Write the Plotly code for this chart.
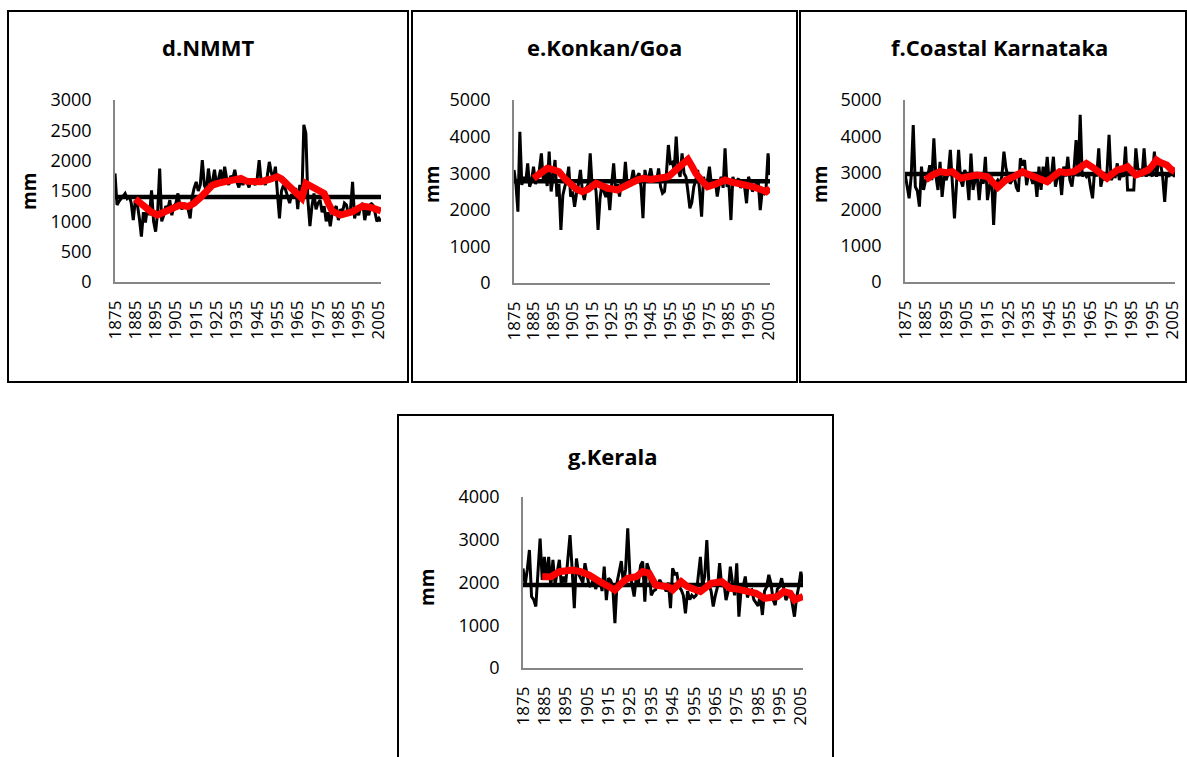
import plotly.graph_objects as go

W, H = 1187, 757

years = list(range(1875, 2007))

# ---- annual rainfall (mm), 1875-2006 ----
nmmt = [1790, 1270, 1330, 1380, 1420, 1460, 1380, 1420, 1300, 1020,
        1350, 1280, 1050, 750, 1150, 980, 1250, 1100, 1510, 1000,
        830, 1150, 1870, 1000, 1100, 1250, 1200, 1350, 1100, 1250,
        1300, 1460, 1250, 1200, 1300, 1250, 1200, 1050, 1400, 1550,
        1650, 1500, 1600, 2010, 1600, 1500, 1870, 1600, 1650, 1850,
        1600, 1700, 1850, 1600, 1900, 1700, 1600, 1750, 1700, 1850,
        1650, 1560, 1700, 1600, 1700, 1650, 1560, 1700, 1650, 1600,
        1700, 2010, 1650, 1700, 1600, 1750, 1980, 1800, 1700, 1900,
        1460, 1050, 1500, 1600, 1520, 1400, 1300, 1450, 1400, 1550,
        1200, 1600, 1350, 2590, 2450, 1350, 920, 1250, 1460, 1200,
        1300, 1350, 1150, 1250, 1000, 1150, 920, 1150, 1200, 1250,
        1020, 1200, 1150, 1300, 1270, 1100, 1200, 1650, 1050, 1200,
        1100, 1250, 1300, 1020, 1200, 1100, 1300, 1270, 1150, 1000,
        1050, 1000]

konkan = [3090, 2700, 1950, 4130, 2680, 2900, 2750, 3270, 2630, 2800,
          3180, 2700, 2900, 3100, 3540, 2800, 3000, 2650, 3590, 2500,
          2900, 3360, 2360, 2700, 1450, 2400, 2630, 2800, 3180, 2360,
          2500, 2080, 2450, 2700, 3090, 2500, 2270, 2600, 2700, 3540,
          2630, 2800, 2500, 1450, 2300, 2700, 2500, 2350, 2600, 1990,
          2700, 3270, 2540, 2700, 2360, 2800, 2600, 3310, 2630, 2700,
          2800, 3090, 2750, 2900, 3000, 2630, 1770, 3090, 2800, 2900,
          3130, 2800, 2900, 2800, 3130, 2630, 2450, 2500, 3000, 3770,
          3270, 3300, 3100, 4000, 3090, 2900, 3540, 3000, 2900, 2500,
          2040, 2200, 2630, 2800, 3090, 2500, 1810, 2900, 2600, 2800,
          3180, 2700, 2630, 2800, 2360, 2700, 2900, 2600, 3680, 2630,
          2700, 1720, 2900, 2700, 2800, 2850, 2600, 2700, 2630, 2180,
          2900, 2750, 2500, 2600, 2700, 2750, 1990, 2500, 2450, 2600,
          3540, 2950]

karnataka = [2985, 2620, 2300, 2900, 4310, 2620, 2500, 2070, 3170, 2530,
             2800, 2900, 3210, 2800, 3950, 2900, 2530, 3300, 2340, 2900,
             2800, 3000, 3630, 2700, 1750, 2700, 3630, 2800, 2620, 3080,
             2900, 2250, 3530, 2530, 2800, 2900, 2250, 2900, 2700, 3440,
             2250, 2620, 2900, 1570, 2710, 2800, 2700, 2900, 3580, 3120,
             2900, 2700, 2800, 2900, 2600, 2480, 3400, 3200, 3350, 2660,
             2990, 2900, 2700, 2940, 2340, 3170, 2530, 3170, 2800, 3440,
             2710, 2900, 3440, 2620, 2900, 3000, 2390, 3170, 2900, 3440,
             2800, 2620, 3100, 3900, 2900, 4590, 2900, 3000, 2900, 2980,
             2600, 2300, 3080, 2900, 3670, 2620, 2900, 2800, 3000, 4040,
             2800, 2900, 2890, 3260, 2800, 3000, 2890, 3720, 2530, 2530,
             2530, 2530, 3670, 3100, 3080, 2900, 3670, 2890, 3170, 3000,
             2900, 3580, 2890, 3300, 3260, 2900, 2200, 3000, 2890, 3080,
             2950, 2890]

kerala = [2330, 1940, 2300, 2760, 1670, 1600, 1440, 2400, 3030, 2060,
          2600, 2060, 2600, 1900, 2530, 1950, 2200, 2530, 1900, 2140,
          2000, 2500, 3110, 2300, 1400, 2560, 2200, 2100, 2000, 2450,
          2200, 1900, 1950, 2100, 1850, 2000, 2060, 1800, 2370, 1590,
          2100, 2050, 1900, 1050, 2000, 2250, 2500, 1950, 2300, 3270,
          2200, 1950, 1670, 2100, 1980, 2400, 2490, 1550, 2450, 2300,
          1700, 1800, 1830, 1950, 2060, 1950, 1900, 1790, 2000, 1400,
          2330, 2200, 2210, 1900, 1830, 1700, 1280, 1800, 1600, 1700,
          1650, 1700, 2180, 2600, 1900, 2140, 2990, 1950, 1800, 1440,
          1700, 1900, 2450, 1900, 2000, 1590, 1800, 2370, 2000, 1700,
          2450, 1200, 1800, 1900, 2140, 1650, 1800, 1830, 1600, 1510,
          1450, 1700, 1240, 1800, 1900, 2180, 1980, 1600, 1470, 1850,
          1900, 2100, 1800, 1590, 1700, 1800, 1500, 1200, 1650, 1900,
          2250, 1950]

# ---- long-term means (mm) ----
nmmt_mean = 1400
konkan_mean = 2780
karnataka_mean = 2970
kerala_mean = 1940

# ---- moving-average trend ----
nmmt_ma_years = [1885, 1889, 1893, 1896, 1899, 1902, 1905, 1907, 1911, 1914, 1917, 1920,
                 1923, 1926, 1929, 1933, 1937, 1940, 1944, 1947, 1951, 1955, 1957, 1960,
                 1963, 1965, 1967, 1969, 1972, 1975, 1978, 1980, 1982, 1986, 1989, 1992,
                 1995, 1997, 2001, 2004, 2006]
nmmt_ma = [1370, 1250, 1150, 1104, 1150, 1214, 1230, 1268, 1245, 1300, 1390, 1500,
           1598, 1630, 1653, 1680, 1708, 1660, 1653, 1653, 1690, 1735, 1700, 1610,
           1500, 1433, 1380, 1625, 1580, 1530, 1461, 1300, 1170, 1104, 1130, 1160,
           1220, 1250, 1230, 1200, 1170]

konkan_ma_years = [1885, 1888, 1892, 1895, 1898, 1901, 1904, 1907, 1910, 1913, 1917, 1920,
                   1923, 1926, 1928, 1931, 1934, 1938, 1941, 1945, 1949, 1954, 1957, 1959,
                   1962, 1964, 1966, 1968, 1971, 1974, 1978, 1983, 1986, 1990, 1994, 1997,
                   2001, 2004, 2006]
konkan_ma = [2860, 2990, 3133, 3100, 3042, 2850, 2678, 2560, 2495, 2560, 2723, 2640,
             2587, 2560, 2541, 2630, 2723, 2814, 2860, 2830, 2860, 2905, 3050, 3133,
             3300, 3379, 3200, 2996, 2800, 2632, 2700, 2814, 2760, 2723, 2690, 2632,
             2560, 2495, 2587]

karnataka_ma_years = [1885, 1888, 1892, 1895, 1898, 1902, 1906, 1910, 1915, 1918, 1920, 1922,
                      1924, 1928, 1932, 1935, 1939, 1942, 1944, 1947, 1950, 1953, 1957, 1960,
                      1963, 1966, 1968, 1970, 1973, 1975, 1978, 1981, 1983, 1985, 1987, 1990,
                      1993, 1995, 1997, 1999, 2002, 2004, 2006]
karnataka_ma = [2802, 2930, 3031, 3000, 3031, 2848, 2900, 2940, 2894, 2700, 2600, 2700,
                2802, 2900, 3031, 2950, 2848, 2780, 2756, 2900, 3031, 3000, 3031, 3150,
                3260, 3150, 3077, 2950, 2848, 2950, 3077, 3120, 3168, 3050, 2940, 3000,
                3077, 3200, 3352, 3280, 3214, 3100, 3031]

kerala_ma_years = [1884, 1888, 1892, 1895, 1898, 1902, 1906, 1911, 1915, 1918, 1921, 1924,
                   1928, 1931, 1934, 1937, 1940, 1943, 1945, 1949, 1952, 1955, 1958, 1961,
                   1963, 1968, 1972, 1975, 1978, 1981, 1984, 1988, 1991, 1994, 1997, 2000,
                   2002, 2004, 2006]
kerala_ma = [2136, 2136, 2253, 2270, 2292, 2253, 2175, 2019, 1900, 1825, 1980, 2097,
             2136, 2253, 2214, 1942, 1920, 1900, 1825, 2019, 1900, 1825, 1787, 1900,
             1980, 2019, 1864, 1850, 1825, 1790, 1747, 1630, 1640, 1670, 1787, 1747,
             1591, 1620, 1670]

tick_years = list(range(1875, 2006, 10))

FONT = "Open Sans"

panels = [
    dict(title="d.NMMT", y=nmmt, mean=nmmt_mean, mx=nmmt_ma_years, my=nmmt_ma,
         ymax=3000, dtick=500, plot=(115, 100, 381, 282), box=(8, 11, 408, 382),
         title_xy=(208, 47), mm_xy=(29, 192)),
    dict(title="e.Konkan/Goa", y=konkan, mean=konkan_mean, mx=konkan_ma_years, my=konkan_ma,
         ymax=5000, dtick=1000, plot=(514, 100, 770, 283), box=(412, 11, 797, 382),
         title_xy=(605, 47), mm_xy=(432, 185)),
    dict(title="f.Coastal Karnataka", y=karnataka, mean=karnataka_mean, mx=karnataka_ma_years,
         my=karnataka_ma, ymax=5000, dtick=1000, plot=(905, 100, 1175, 282),
         box=(800, 11, 1186, 382), title_xy=(1000, 47), mm_xy=(820, 185)),
    dict(title="g.Kerala", y=kerala, mean=kerala_mean, mx=kerala_ma_years, my=kerala_ma,
         ymax=4000, dtick=1000, plot=(523, 497, 803, 668), box=(398, 415, 833, 760),
         title_xy=(613, 456), mm_xy=(427, 588)),
]

fig = go.Figure()
shapes = []
annotations = []

for i, p in enumerate(panels):
    n = "" if i == 0 else str(i + 1)
    xa, ya = "x" + n, "y" + n
    fig.add_trace(go.Scatter(x=years, y=p["y"], mode="lines",
                             line=dict(color="black", width=3),
                             xaxis=xa, yaxis=ya, showlegend=False, hoverinfo="skip"))
    fig.add_trace(go.Scatter(x=[years[0], years[-1]], y=[p["mean"], p["mean"]], mode="lines",
                             line=dict(color="black", width=4.5),
                             xaxis=xa, yaxis=ya, showlegend=False, hoverinfo="skip"))
    fig.add_trace(go.Scatter(x=p["mx"], y=p["my"], mode="lines",
                             line=dict(color="#FF0000", width=7),
                             xaxis=xa, yaxis=ya, showlegend=False, hoverinfo="skip"))
    x0, y0, x1, y1 = p["plot"]
    fig.layout["xaxis" + n] = dict(
        domain=[x0 / W, x1 / W], anchor=ya, range=[years[0], years[-1]],
        tickmode="array", tickvals=tick_years, tickangle=-90,
        tickfont=dict(family=FONT, size=17, color="black"),
        showgrid=False, zeroline=False, showline=True, linecolor="#868686", linewidth=1.5,
        ticks="", ticklabelstandoff=10, automargin=False, fixedrange=True)
    fig.layout["yaxis" + n] = dict(
        domain=[1 - y1 / H, 1 - y0 / H], anchor=xa, range=[0, p["ymax"]],
        dtick=p["dtick"], tick0=0,
        tickfont=dict(family=FONT, size=18, color="black"),
        showgrid=False, zeroline=False, showline=True, linecolor="#868686", linewidth=1.5,
        ticks="", ticklabelstandoff=18, automargin=False, fixedrange=True)
    bx0, by0, bx1, by1 = p["box"]
    shapes.append(dict(type="rect", xref="paper", yref="paper",
                       x0=bx0 / W, x1=bx1 / W, y0=1 - by1 / H, y1=1 - by0 / H,
                       line=dict(color="black", width=2), fillcolor="rgba(0,0,0,0)"))
    tx, ty = p["title_xy"]
    annotations.append(dict(text="<b>" + p["title"] + "</b>", xref="paper", yref="paper",
                            x=tx / W, y=1 - ty / H, showarrow=False,
                            xanchor="center", yanchor="middle",
                            font=dict(family=FONT, size=22, color="black")))
    mx_, my_ = p["mm_xy"]
    annotations.append(dict(text="<b>mm</b>", xref="paper", yref="paper",
                            x=mx_ / W, y=1 - my_ / H, showarrow=False, textangle=-90,
                            xanchor="center", yanchor="middle",
                            font=dict(family=FONT, size=19, color="black")))

fig.update_layout(
    width=W, height=H, margin=dict(l=0, r=0, t=0, b=0, pad=0, autoexpand=False),
    paper_bgcolor="white", plot_bgcolor="white",
    shapes=shapes, annotations=annotations, showlegend=False,
)

fig.write_html(
    "out.html",
    config={"displayModeBar": False},
    post_script="document.body.style.margin='0';document.body.style.padding='0';"
                "document.body.style.overflow='hidden';"
                "document.documentElement.style.overflow='hidden';",
)
